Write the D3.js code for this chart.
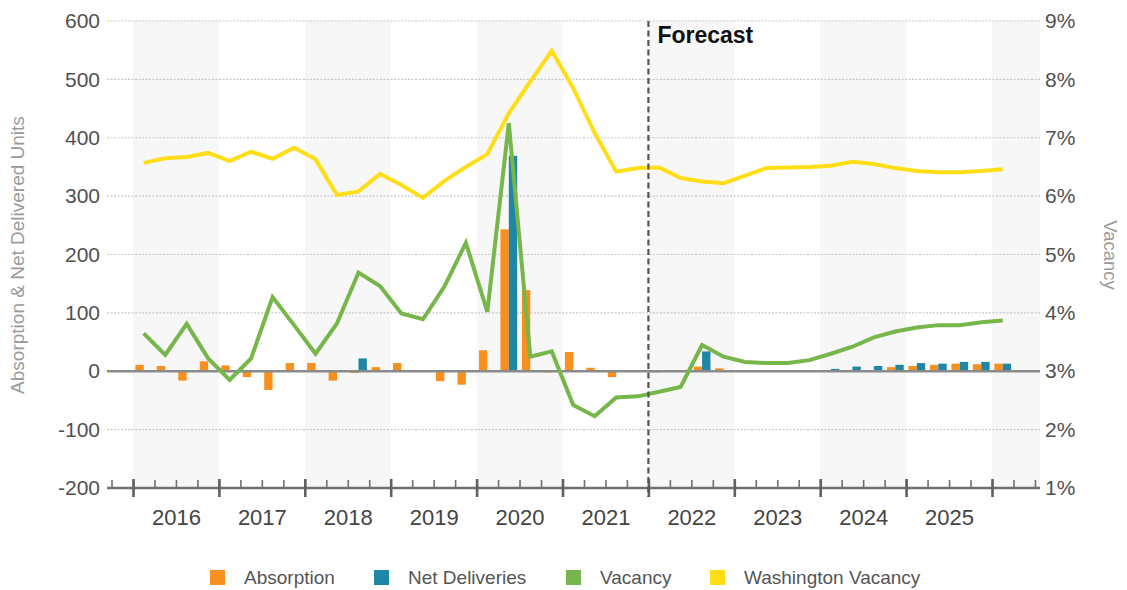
<!DOCTYPE html>
<html>
<head>
<meta charset="utf-8">
<script src="https://cdn.jsdelivr.net/npm/d3@7/dist/d3.min.js"></script>
<style>
  html, body { margin: 0; padding: 0; background: #fff; }
  svg { display: block; font-family: "Liberation Sans", Arial, sans-serif; }
</style>
</head>
<body>
<svg id="chart" width="1127" height="590"></svg>
<script>
// ---- DATA ----
const quarters = [
  "2016 Q1","2016 Q2","2016 Q3","2016 Q4",
  "2017 Q1","2017 Q2","2017 Q3","2017 Q4",
  "2018 Q1","2018 Q2","2018 Q3","2018 Q4",
  "2019 Q1","2019 Q2","2019 Q3","2019 Q4",
  "2020 Q1","2020 Q2","2020 Q3","2020 Q4",
  "2021 Q1","2021 Q2","2021 Q3","2021 Q4",
  "2022 Q1","2022 Q2","2022 Q3","2022 Q4",
  "2023 Q1","2023 Q2","2023 Q3","2023 Q4",
  "2024 Q1","2024 Q2","2024 Q3","2024 Q4",
  "2025 Q1","2025 Q2","2025 Q3","2025 Q4",
  "2026 Q1"
];
const years = ["2016","2017","2018","2019","2020","2021","2022","2023","2024","2025"];
const absorption = [
  11, 9, -16, 17,
  10, -10, -32, 14,
  14, -16, -3, 7,
  14, 1, -17, -23,
  36, 243, 139, -2,
  33, 6, -10, 0,
  -2, -1, 8, 5,
  -1, 1, 1, 1,
  1, 1, 2, 7,
  9, 11, 13, 12,
  13
];
const netDeliveries = [
  0, 0, 0, 0,
  0, 0, 0, 0,
  0, 0, 22, 0,
  0, 0, 0, 0,
  0, 369, 0, 0,
  0, 0, 0, 0,
  0, 0, 34, 0,
  0, 0, 0, 0,
  4, 8, 9, 11,
  14, 13, 16, 16,
  13
];
const vacancy = [
  3.65, 3.28, 3.81, 3.22,
  2.85, 3.22, 4.27, 3.79,
  3.30, 3.82, 4.69, 4.46,
  3.99, 3.89, 4.45, 5.20,
  4.02, 7.25, 3.25, 3.34,
  2.42, 2.23, 2.55, 2.57,
  2.65, 2.73, 3.45, 3.25,
  3.16, 3.14, 3.14, 3.19,
  3.30, 3.42, 3.58, 3.68,
  3.75, 3.79, 3.79, 3.84,
  3.87
];
const washingtonVacancy = [
  6.57, 6.65, 6.67, 6.74,
  6.60, 6.76, 6.64, 6.83,
  6.63, 6.02, 6.08, 6.38,
  6.19, 5.97, 6.26, 6.50,
  6.72, 7.42, 7.96, 8.49,
  7.85, 7.08, 6.42, 6.48,
  6.49, 6.31, 6.25, 6.22,
  6.35, 6.48, 6.49, 6.50,
  6.52, 6.59, 6.55, 6.48,
  6.43, 6.41, 6.41, 6.43,
  6.46
];
const leftTicks = [-200, -100, 0, 100, 200, 300, 400, 500, 600];
const rightTicks = [1, 2, 3, 4, 5, 6, 7, 8, 9];
const forecastStart = "2022 Q1";
const seriesNames = ["Absorption", "Net Deliveries", "Vacancy", "Washington Vacancy"];
const colors = { absorption: "#F7901E", net: "#1F86A6", vacancy: "#77B64A", wash: "#FFDD17" };

// ---- LAYOUT ----
const svg = d3.select("#chart");
const plotLeft = 107, plotRight = 1040, plotTop = 21, plotBottom = 488;

const x = d3.scaleLinear().domain([0, 40]).range([133, 992]);
const xMin = x.invert(plotLeft), xMax = x.invert(plotRight);
const yL = d3.scaleLinear().domain([-200, 600]).range([plotBottom, plotTop]);
const yR = d3.scaleLinear().domain([1, 9]).range([plotBottom, plotTop]);

// year bands (alternate shading)
const bandYears = d3.range(0, years.length + 1, 2);
svg.append("g").selectAll("rect").data(bandYears).join("rect")
  .attr("x", d => x(d * 4))
  .attr("width", d => Math.min(x(d * 4 + 4), plotRight) - x(d * 4))
  .attr("y", plotTop)
  .attr("height", plotBottom - plotTop)
  .attr("fill", "#F7F7F7");

// grid lines
svg.append("g").selectAll("line").data(leftTicks.filter(d => d !== 0 && d !== -200)).join("line")
  .attr("x1", plotLeft).attr("x2", plotRight)
  .attr("y1", d => yL(d)).attr("y2", d => yL(d))
  .attr("stroke", "#C8C8C8").attr("stroke-width", 1.2)
  .attr("stroke-dasharray", "2,1.5");

// bars
const bars = svg.append("g");
bars.selectAll("rect.abs").data(absorption).join("rect")
  .attr("class", "abs")
  .attr("x", (d, i) => x(i + 0.11))
  .attr("width", (d, i) => x(i + 0.5) - x(i + 0.11))
  .attr("y", d => yL(Math.max(0, d)))
  .attr("height", d => Math.abs(yL(d) - yL(0)))
  .attr("fill", colors.absorption);
bars.selectAll("rect.net").data(netDeliveries).join("rect")
  .attr("class", "net")
  .attr("x", (d, i) => x(i + 0.5))
  .attr("width", (d, i) => x(i + 0.89) - x(i + 0.5))
  .attr("y", d => yL(Math.max(0, d)))
  .attr("height", d => Math.abs(yL(d) - yL(0)))
  .attr("fill", colors.net);

// zero line
svg.append("line")
  .attr("x1", plotLeft).attr("x2", plotRight)
  .attr("y1", yL(0)).attr("y2", yL(0))
  .attr("stroke", "#8A8A8A").attr("stroke-width", 2.5);

// lines
const lineR = d3.line().x((d, i) => x(i + 0.5)).y(d => yR(d));
svg.append("path").datum(vacancy)
  .attr("d", lineR).attr("fill", "none")
  .attr("stroke", colors.vacancy).attr("stroke-width", 4).attr("stroke-linejoin", "miter");
svg.append("path").datum(washingtonVacancy)
  .attr("d", lineR).attr("fill", "none")
  .attr("stroke", colors.wash).attr("stroke-width", 4).attr("stroke-linejoin", "miter");

// bottom axis (minor quarter ticks)
const minorTicks = d3.range(Math.ceil(xMin), Math.floor(xMax) + 1);
const gx = svg.append("g").attr("transform", `translate(0,${plotBottom})`)
  .call(d3.axisBottom(x).tickValues(minorTicks).tickSize(-8).tickFormat(""));
gx.select(".domain").remove();
gx.selectAll(".tick line").attr("stroke", "#707070").attr("stroke-width", 1.6);
svg.append("line")
  .attr("x1", plotLeft).attr("x2", plotRight)
  .attr("y1", plotBottom).attr("y2", plotBottom)
  .attr("stroke", "#707070").attr("stroke-width", 2.5);
// major year ticks
const majorTicks = d3.range(0, 41, 4);
const gxm = svg.append("g").attr("transform", `translate(0,${plotBottom})`)
  .call(d3.axisBottom(x).tickValues(majorTicks).tickSize(9).tickFormat(""));
gxm.select(".domain").remove();
gxm.selectAll(".tick line").attr("y1", -9).attr("stroke", "#606060").attr("stroke-width", 2.6);
// year labels
const gxl = svg.append("g").attr("transform", `translate(0,${plotBottom})`)
  .call(d3.axisBottom(x).tickValues(years.map((y, i) => i * 4 + 2)).tickSize(0).tickPadding(21)
    .tickFormat((d, i) => years[i]));
gxl.select(".domain").remove();
gxl.selectAll("text").attr("font-size", 22).attr("fill", "#444").attr("font-family", "Liberation Sans, Arial, sans-serif");

// left axis labels
const gl = svg.append("g").attr("transform", `translate(${plotLeft},0)`)
  .call(d3.axisLeft(yL).tickValues(leftTicks).tickSize(0).tickPadding(7).tickFormat(d => String(d)));
gl.select(".domain").remove();
gl.selectAll("text").attr("font-size", 21).attr("fill", "#505050").attr("font-family", "Liberation Sans, Arial, sans-serif");

// right axis labels
const gr = svg.append("g").attr("transform", `translate(${plotRight},0)`)
  .call(d3.axisRight(yR).tickValues(rightTicks).tickSize(0).tickPadding(5).tickFormat(d => d + "%"));
gr.select(".domain").remove();
gr.selectAll("text").attr("font-size", 21).attr("fill", "#505050").attr("font-family", "Liberation Sans, Arial, sans-serif");

// axis titles
svg.append("text")
  .attr("transform", `translate(24,255) rotate(-90)`)
  .attr("text-anchor", "middle")
  .attr("font-size", 19).attr("fill", "#9A9A9A")
  .text("Absorption & Net Delivered Units");
svg.append("text")
  .attr("transform", `translate(1104,255) rotate(90)`)
  .attr("text-anchor", "middle")
  .attr("font-size", 18.5).attr("fill", "#9A9A9A")
  .text("Vacancy");

// forecast line
const fIdx = quarters.indexOf(forecastStart);
svg.append("line")
  .attr("x1", x(fIdx)).attr("x2", x(fIdx))
  .attr("y1", plotTop).attr("y2", plotBottom + 9)
  .attr("stroke", "#555").attr("stroke-width", 2.2).attr("stroke-dasharray", "6,3.5");
svg.append("text")
  .attr("x", x(fIdx) + 9).attr("y", 43)
  .attr("font-size", 23).attr("font-weight", "bold").attr("fill", "#111")
  .text("Forecast");

// legend
const legendItems = [
  { name: seriesNames[0], color: colors.absorption, sx: 210 },
  { name: seriesNames[1], color: colors.net, sx: 374 },
  { name: seriesNames[2], color: colors.vacancy, sx: 566 },
  { name: seriesNames[3], color: colors.wash, sx: 710 }
];
const lg = svg.append("g").selectAll("g").data(legendItems).join("g");
lg.append("rect").attr("x", d => d.sx).attr("y", 570).attr("width", 15).attr("height", 15).attr("fill", d => d.color);
lg.append("text").attr("x", d => d.sx + 34).attr("y", 584)
  .attr("font-size", 19).attr("fill", "#555").text(d => d.name);
</script>
</body>
</html>
